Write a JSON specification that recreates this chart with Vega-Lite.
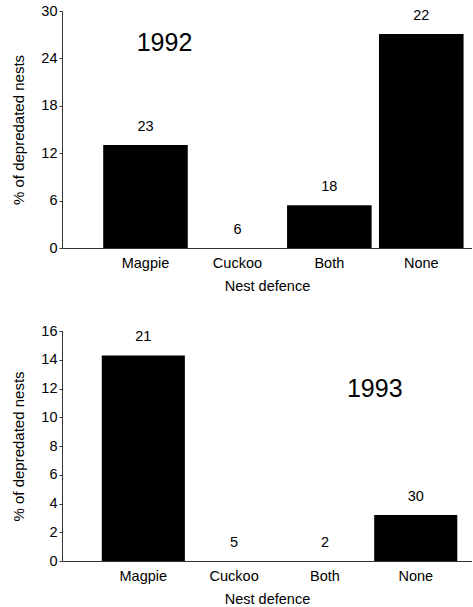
{
  "$schema": "https://vega.github.io/schema/vega-lite/v6.json",
  "padding": {"left": 11, "top": 3, "right": 0, "bottom": 0},
  "background": "white",
  "spacing": 30,
  "config": {
    "view": {"stroke": null},
    "font": "Liberation Sans",
    "axis": {"domainColor": "#333", "tickColor": "#333", "labelColor": "#000", "titleColor": "#000", "labelFont": "Liberation Sans", "titleFont": "Liberation Sans", "titleFontWeight": "normal", "grid": false, "labelOverlap": false}
  },
  "vconcat": [
    {
      "width": 410,
      "height": 237,
      "layer": [
        {
          "data": {"values": [
            {"defence": "Magpie", "pct": 13.04, "n": 23},
            {"defence": "Cuckoo", "pct": 0, "n": 6},
            {"defence": "Both", "pct": 5.4, "n": 18},
            {"defence": "None", "pct": 27.1, "n": 22}
          ]},
          "layer": [
            {
              "mark": {"type": "bar", "color": "#000"},
              "encoding": {
                "x": {"field": "defence", "type": "nominal", "sort": ["Magpie", "Cuckoo", "Both", "None"],
                  "scale": {"paddingInner": 0.08, "paddingOuter": 0.27, "align": 0.83},
                  "axis": {"title": "Nest defence", "labelAngle": 0, "ticks": false, "labelPadding": 8, "labelFontSize": 14.5, "titleFontSize": 14.5, "titlePadding": 10}},
                "y": {"field": "pct", "type": "quantitative", "scale": {"domain": [0, 30]},
                  "axis": {"title": "% of depredated nests", "values": [0, 6, 12, 18, 24, 30], "labelOverlap": false, "tickSize": 3, "labelPadding": 2, "labelFontSize": 14.5, "titleFontSize": 15, "titlePadding": 14}}
              }
            },
            {
              "mark": {"type": "text", "fontSize": 14.5, "dy": -18, "baseline": "middle", "color": "#000"},
              "encoding": {
                "x": {"field": "defence", "type": "nominal", "sort": ["Magpie", "Cuckoo", "Both", "None"]},
                "y": {"field": "pct", "type": "quantitative"},
                "text": {"field": "n", "type": "quantitative"}
              }
            }
          ]
        },
        {
          "data": {"values": [{"defence": "Magpie", "pct": 25.95, "year": "1992"}]},
          "mark": {"type": "text", "fontSize": 25, "dx": 19, "baseline": "middle", "color": "#000"},
          "encoding": {
            "x": {"field": "defence", "type": "nominal", "sort": ["Magpie", "Cuckoo", "Both", "None"]},
            "y": {"field": "pct", "type": "quantitative"},
            "text": {"field": "year", "type": "nominal"}
          }
        }
      ]
    },
    {
      "width": 410,
      "height": 230,
      "layer": [
        {
          "data": {"values": [
            {"defence": "Magpie", "pct": 14.3, "n": 21},
            {"defence": "Cuckoo", "pct": 0, "n": 5},
            {"defence": "Both", "pct": 0, "n": 2},
            {"defence": "None", "pct": 3.2, "n": 30}
          ]},
          "layer": [
            {
              "mark": {"type": "bar", "color": "#000"},
              "encoding": {
                "x": {"field": "defence", "type": "nominal", "sort": ["Magpie", "Cuckoo", "Both", "None"],
                  "scale": {"paddingInner": 0.085, "paddingOuter": 0.3, "align": 0.73},
                  "axis": {"title": "Nest defence", "labelAngle": 0, "ticks": false, "labelPadding": 8, "labelFontSize": 14.5, "titleFontSize": 14.5, "titlePadding": 10}},
                "y": {"field": "pct", "type": "quantitative", "scale": {"domain": [0, 16]},
                  "axis": {"title": "% of depredated nests", "values": [0, 2, 4, 6, 8, 10, 12, 14, 16], "labelOverlap": false, "tickSize": 3, "labelPadding": 2, "labelFontSize": 14.5, "titleFontSize": 15, "titlePadding": 14}}
              }
            },
            {
              "mark": {"type": "text", "fontSize": 14.5, "dy": -18, "baseline": "middle", "color": "#000"},
              "encoding": {
                "x": {"field": "defence", "type": "nominal", "sort": ["Magpie", "Cuckoo", "Both", "None"]},
                "y": {"field": "pct", "type": "quantitative",
                  "axis": {"title": "% of depredated nests", "values": [0, 2, 4, 6, 8, 10, 12, 14, 16], "labelOverlap": false, "tickSize": 3, "labelPadding": 2, "labelFontSize": 14.5, "titleFontSize": 15, "titlePadding": 14}},
                "text": {"field": "n", "type": "quantitative"}
              }
            }
          ]
        },
        {
          "data": {"values": [{"defence": "None", "pct": 12.0, "year": "1993"}]},
          "mark": {"type": "text", "fontSize": 25, "dx": -41, "baseline": "middle", "color": "#000"},
          "encoding": {
            "x": {"field": "defence", "type": "nominal", "sort": ["Magpie", "Cuckoo", "Both", "None"]},
            "y": {"field": "pct", "type": "quantitative",
              "axis": {"title": "% of depredated nests", "values": [0, 2, 4, 6, 8, 10, 12, 14, 16], "labelOverlap": false, "tickSize": 3, "labelPadding": 2, "labelFontSize": 14.5, "titleFontSize": 15, "titlePadding": 14}},
            "text": {"field": "year", "type": "nominal"}
          }
        }
      ]
    }
  ]
}
